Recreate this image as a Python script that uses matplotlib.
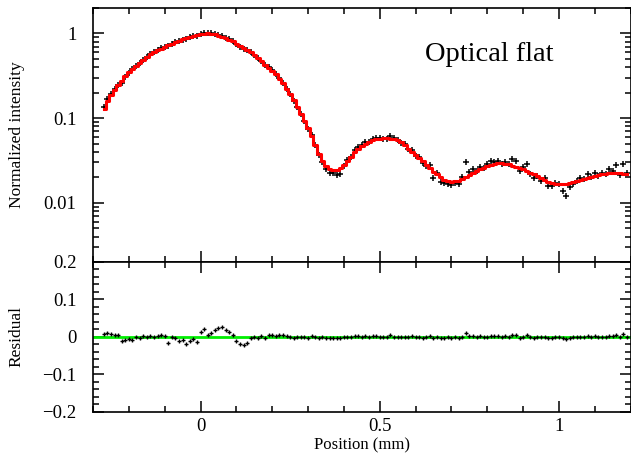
import numpy as np
import matplotlib
matplotlib.use("Agg")
import matplotlib.pyplot as plt
from matplotlib.ticker import FixedLocator, MultipleLocator, LogLocator, NullFormatter, FuncFormatter

plt.rcParams.update({
    "font.family": "Liberation Serif", "font.size": 12,
    "axes.linewidth": 1.2, "axes.unicode_minus": True,
})

# position grid (mm), one sample every 0.01 mm
x = np.round(np.arange(-0.27, 1.195, 0.01), 2)

# fitted model (normalized intensity)
fit = np.array([
    0.129, 0.158, 0.188, 0.216, 0.245, 0.275, 0.313, 0.351, 0.385, 0.417,
    0.452, 0.490, 0.531, 0.569, 0.603, 0.634, 0.664, 0.695, 0.728, 0.759,
    0.791, 0.822, 0.855, 0.885, 0.912, 0.938, 0.959, 0.979, 0.993, 1.000,
    0.995, 0.977, 0.946, 0.912, 0.875, 0.839, 0.804, 0.759, 0.716, 0.676,
    0.646, 0.610, 0.562, 0.513, 0.468, 0.427, 0.394, 0.363, 0.331, 0.292,
    0.257, 0.221, 0.191, 0.162, 0.135, 0.112, 0.0923, 0.0759, 0.0610, 0.0479,
    0.0380, 0.0309, 0.0272, 0.0254, 0.0243, 0.0243, 0.0260, 0.0282, 0.0313, 0.0351,
    0.0394, 0.0437, 0.0473, 0.0501, 0.0525, 0.0547, 0.0562, 0.0571, 0.0575, 0.0575,
    0.0571, 0.0562, 0.0547, 0.0519, 0.0479, 0.0437, 0.0398, 0.0367, 0.0339, 0.0313,
    0.0282, 0.0257, 0.0234, 0.0216, 0.0200, 0.0186, 0.0180, 0.0178, 0.0179, 0.0182,
    0.0191, 0.0202, 0.0214, 0.0225, 0.0237, 0.0249, 0.0261, 0.0271, 0.0281, 0.0290,
    0.0294, 0.0294, 0.0290, 0.0284, 0.0275, 0.0267, 0.0259, 0.0251, 0.0240, 0.0226,
    0.0216, 0.0205, 0.0195, 0.0186, 0.0178, 0.0172, 0.0168, 0.0166, 0.0166, 0.0168,
    0.0172, 0.0177, 0.0182, 0.0187, 0.0193, 0.0199, 0.0204, 0.0209, 0.0214, 0.0218,
    0.0221, 0.0223, 0.0224, 0.0224, 0.0223, 0.0221, 0.0219,
])

# residual (measured - fit)
resid = np.array([
    0.008, 0.010, 0.007, 0.006, 0.004, -0.012, -0.008, -0.005, -0.007, 0.000,
    -0.003, 0.002, -0.001, 0.003, 0.001, 0.003, 0.004, 0.002, -0.015, 0.000,
    -0.004, -0.012, -0.008, -0.018, -0.010, -0.005, -0.014, 0.014, 0.020, 0.006,
    0.010, 0.018, 0.024, 0.027, 0.018, 0.014, 0.004, -0.012, -0.018, -0.022,
    -0.016, -0.004, 0.001, -0.002, 0.002, -0.003, 0.004, 0.005, 0.003, 0.004,
    0.005, 0.002, 0.001, -0.002, 0.001, -0.001, 0.000, -0.002, 0.0015, 0.000,
    -0.0017, -0.0007, -0.0018, -0.0028, -0.0021, -0.0031, -0.0039, -0.0013, 0.0007, -0.0008,
    0.0028, 0.0021, 0.0011, 0.0024, 0.000, 0.0026, 0.0020, 0.0013, -0.0013, -0.0006,
    0.0041, 0.0013, 0.000, -0.0012, 0.0011, 0.000, 0.0019, -0.0008, 0.0008, -0.0021,
    -0.0013, 0.0025, -0.0035, 0.0010, -0.0022, -0.0016, -0.0012, -0.0016, -0.0008, -0.0016,
    0.0009, 0.0104, 0.0015, 0.0027, 0.000, 0.0018, -0.0006, 0.0013, 0.0027, 0.0014,
    0.0021, -0.0007, 0.0014, 0.0007, 0.0056, 0.0047, -0.0023, 0.0012, 0.0048, -0.0010,
    -0.0019, 0.000, -0.0013, 0.0009, -0.0019, -0.0015, 0.0004, 0.000, -0.0028, -0.0046,
    -0.0019, -0.0012, 0.000, 0.0009, -0.0004, 0.0019, 0.000, 0.0015, -0.0005, 0.0010,
    0.000, 0.0027, 0.0016, 0.0052, -0.0010, 0.0070, 0.0005,
])

meas = fit + resid

fig = plt.figure(figsize=(6.31, 4.59), dpi=100)
ax1 = fig.add_axes([0.1474, 0.4292, 0.852, 0.5534])
ax2 = fig.add_axes([0.1474, 0.1024, 0.852, 0.3268])

# top: data + fit on log scale
ax1.plot(x, meas, ls="none", marker="+", ms=4, mew=1.1, color="black")
ax1.plot(x, fit, drawstyle="steps-mid", color="red", lw=2.2)
ax1.set_yscale("log")
ax1.set_ylim(0.002, 2)
ax1.set_xlim(-0.3, 1.2)
ax1.yaxis.set_major_locator(FixedLocator([0.01, 0.1, 1]))
ax1.yaxis.set_major_formatter(FuncFormatter(lambda v, p: f"{v:g}"))
ax1.yaxis.set_minor_locator(LogLocator(base=10, subs=np.arange(2, 10)))
ax1.yaxis.set_minor_formatter(NullFormatter())
ax1.xaxis.set_major_locator(MultipleLocator(0.5))
ax1.xaxis.set_minor_locator(MultipleLocator(0.1))
ax1.tick_params(labelbottom=False)
ax1.set_ylabel("Normalized intensity", fontsize=12.5, labelpad=13)
ax1.text(0.737, 0.815, "Optical flat", transform=ax1.transAxes,
         ha="center", va="center", fontsize=20.5)

# bottom: residuals
ax2.axhline(0, color="#00ee00", lw=2)
ax2.plot(x, resid, ls="none", marker="+", ms=3, mew=1.0, color="black")
ax2.set_xlim(-0.3, 1.2)
ax2.set_ylim(-0.2, 0.2)
ax2.yaxis.set_major_locator(MultipleLocator(0.1))
ax2.yaxis.set_minor_locator(MultipleLocator(0.02))
ax2.yaxis.set_major_formatter(FuncFormatter(lambda v, p: "0" if abs(v) < 1e-9 else f"{v:g}".replace("-", "\u2212")))
ax2.xaxis.set_major_locator(MultipleLocator(0.5))
ax2.xaxis.set_minor_locator(MultipleLocator(0.1))
ax2.xaxis.set_major_formatter(FuncFormatter(lambda v, p: f"{v:g}"))
ax2.set_xlabel("Position (mm)", fontsize=12, labelpad=2)
ax2.set_ylabel("Residual", fontsize=12.5, labelpad=13)

for ax in (ax1, ax2):
    ax.tick_params(which="both", direction="in", top=True, right=True, width=1.1)
    ax.tick_params(which="major", length=8, labelsize=13.5)
    ax.tick_params(which="minor", length=4)
    ax.tick_params(axis="y", pad=12)
    ax.tick_params(axis="x", pad=4)

fig.savefig("out.png", dpi=100)
